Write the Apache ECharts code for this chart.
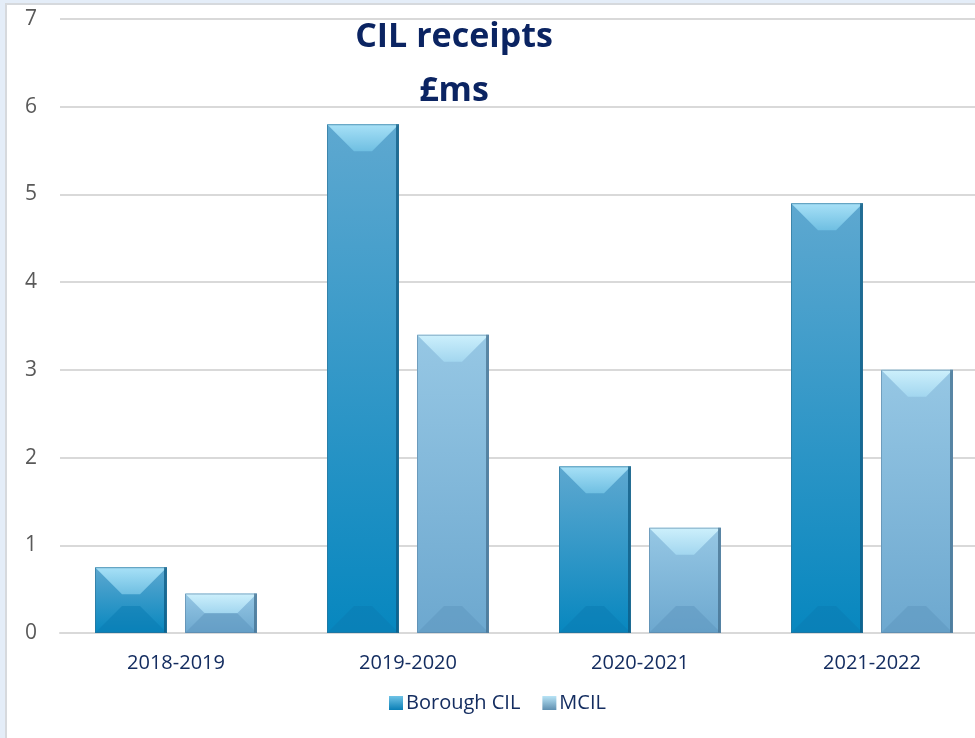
<!DOCTYPE html>
<html>
<head>
<meta charset="utf-8">
<title>CIL receipts</title>
<script src="https://cdn.jsdelivr.net/npm/echarts@6/dist/echarts.min.js"></script>
<style>
  html, body { margin: 0; padding: 0; background: #e4edf8; overflow: hidden; }
  #main { width: 988px; height: 738px; }
</style>
</head>
<body>
<div id="main"></div>
<script>
// chart data
var years = ['2018-2019', '2019-2020', '2020-2021', '2021-2022'];
var boroughCIL = [0.75, 5.8, 1.9, 4.9];
var mcil = [0.45, 3.4, 1.2, 3.0];
var yTicks = [0, 1, 2, 3, 4, 5, 6, 7];

var myChart = echarts.init(document.getElementById('main'));

var G = echarts.graphic;
function vgrad(a, b) {
    return new G.LinearGradient(0, 0, 0, 1, [{ offset: 0, color: a }, { offset: 1, color: b }]);
}

var palettes = {
    borough: {
        top: ['#a8e1f7', '#6fbfe2'],
        body: ['#5ea8d0', '#0787bf'],
        bottom: '#0b7cb2',
        edge: '#0d5a82',
        stroke: '#2a6f95'
    },
    mcil: {
        top: ['#cdf0fc', '#a2d6ef'],
        body: ['#96c7e4', '#6da8cf'],
        bottom: '#5f98c0',
        edge: '#44708f',
        stroke: '#5a86a6'
    }
};

// bar width and offset as share of the category band
var BAR_RATIO = 0.31;
var OFFSET_RATIO = 0.192;

function bevelBar(sign, pal) {
    return function (params, api) {
        var idx = api.value(0);
        var val = api.value(1);
        var band = api.size([1, 0])[0];
        var top = api.coord([idx, val]);
        var base = api.coord([idx, 0]);
        var w = Math.round(band * BAR_RATIO);
        var cx = top[0] + sign * band * OFFSET_RATIO;
        var x0 = Math.round(cx - w / 2), x1 = x0 + w;
        var y0 = top[1], y1 = base[1];
        var h = y1 - y0;
        var d = Math.min(27, h / 2, w / 2);
        return {
            type: 'group',
            children: [
                {
                    type: 'rect',
                    shape: { x: x0, y: y0, width: w, height: h },
                    style: { fill: vgrad(pal.body[0], pal.body[1]) }
                },
                {
                    type: 'polygon',
                    shape: { points: [[x0, y0], [x1, y0], [x1 - d, y0 + d], [x0 + d, y0 + d]] },
                    style: { fill: vgrad(pal.top[0], pal.top[1]) }
                },
                {
                    type: 'polygon',
                    shape: { points: [[x0, y1], [x1, y1], [x1 - d, y1 - d], [x0 + d, y1 - d]] },
                    style: { fill: pal.bottom, opacity: 0.55 }
                },
                {
                    type: 'rect',
                    shape: { x: x1 - 3, y: y0, width: 3, height: h },
                    style: { fill: pal.edge, opacity: 0.75 }
                },
                {
                    type: 'rect',
                    shape: { x: x0 + 0.5, y: y0 + 0.5, width: w - 1, height: h - 1 },
                    style: { fill: 'none', stroke: pal.stroke, lineWidth: 1, opacity: 0.6 }
                }
            ]
        };
    };
}

var option = {
    animation: false,
    textStyle: { fontFamily: 'Open Sans' },
    graphic: [
        {
            type: 'rect', z: -10, silent: true,
            shape: { x: 6, y: 4, width: 1000, height: 760 },
            style: { fill: '#ffffff', stroke: '#d6d9dd', lineWidth: 2 }
        },
        {
            type: 'text', x: 454, y: 10, z: 10,
            style: {
                text: 'CIL receipts\n£ms',
                align: 'center',
                verticalAlign: 'top',
                fill: '#0b2462',
                font: 'bold 34px "Open Sans"',
                lineHeight: 54
            }
        }
    ],
    grid: {
        left: 60,
        right: 0,
        top: 19,
        bottom: 105,
        containLabel: false
    },
    xAxis: {
        type: 'category',
        data: years,
        axisTick: { show: false },
        axisLine: { lineStyle: { color: '#d9d9d9', width: 2 } },
        axisLabel: { color: '#142d60', fontSize: 20, margin: 20 }
    },
    yAxis: {
        type: 'value',
        min: yTicks[0],
        max: yTicks[yTicks.length - 1],
        interval: 1,
        axisLine: { show: false },
        axisTick: { show: false },
        axisLabel: { color: '#595959', fontSize: 21, margin: 23 },
        splitLine: { lineStyle: { color: '#d9d9d9', width: 2 } }
    },
    legend: {
        left: 384,
        top: 688,
        itemWidth: 14,
        itemHeight: 14,
        itemGap: 22,
        textStyle: { color: '#142d60', fontSize: 20, padding: [0, 0, 0, -2] },
        data: [
            { name: 'Borough CIL', icon: 'rect' },
            { name: 'MCIL', icon: 'rect' }
        ]
    },
    series: [
        {
            name: 'Borough CIL',
            type: 'custom',
            renderItem: bevelBar(-1, palettes.borough),
            itemStyle: { color: vgrad('#6fc3e6', '#0a7fb6') },
            encode: { x: 0, y: 1 },
            data: boroughCIL.map(function (v, i) { return [i, v]; })
        },
        {
            name: 'MCIL',
            type: 'custom',
            renderItem: bevelBar(1, palettes.mcil),
            itemStyle: { color: vgrad('#b8e4f6', '#5f8fb0') },
            encode: { x: 0, y: 1 },
            data: mcil.map(function (v, i) { return [i, v]; })
        }
    ]
};

myChart.setOption(option);
</script>
</body>
</html>
